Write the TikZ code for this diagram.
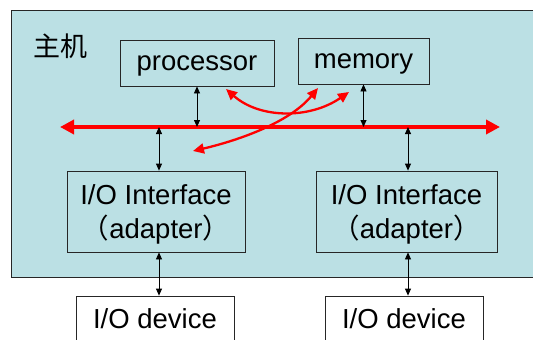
\documentclass[tikz,border=0pt]{standalone}
\usepackage{fontspec}
\setmainfont{Liberation Sans}
\newfontfamily\cjk{Noto Sans CJK SC}
\usetikzlibrary{arrows.meta}
\definecolor{hostblue}{RGB}{187,224,228}
\definecolor{busred}{RGB}{255,0,0}
\tikzset{
  box/.style={draw=black!85, line width=0.8pt, inner sep=0pt, text depth=0pt, font=\fontsize{27.5}{34}\selectfont, align=center},
  link/.style={{Triangle[length=7pt,width=6pt]}-{Triangle[length=7pt,width=6pt]}, line width=0.8pt, black},
  busline/.style={busred, line width=4.5pt, {Triangle[length=14pt,width=14pt]}-{Triangle[length=14pt,width=14pt]}},
  flow/.style={busred, line width=2.3pt, {Triangle[length=11pt,width=10pt]}-{Triangle[length=11pt,width=10pt]}}
}
\begin{document}
\begin{tikzpicture}[x=1pt,y=-1pt]
\useasboundingbox (0,0) rectangle (533,340);
\clip (0,0) rectangle (533,340);
\fill[white] (0,0) rectangle (533,340);
% host area
\node (host) [draw=black!85, line width=0.8pt, fill=hostblue, anchor=north west, minimum width=540pt, minimum height=267pt, inner sep=0pt] at (11,10) {};
\node (hostlabel) [font=\cjk\fontsize{27}{30}\selectfont, inner sep=0pt] at (60,46) {主机};
% components
\node (proc) [box, minimum width=154pt, minimum height=46pt] at (197,63) {processor};
\node (mem) [box, minimum width=131pt, minimum height=46pt] at (363.5,61) {memory};
\node (ifL) [box, minimum width=178pt, minimum height=81pt] at (156,211.5) {I/O Interface\\{\cjk （}adapter{\cjk ）}};
\node (ifR) [box, minimum width=181pt, minimum height=81pt] at (406.5,211.5) {I/O Interface\\{\cjk （}adapter{\cjk ）}};
\node (devL) [box, fill=white, minimum width=158pt, minimum height=46pt] at (155,319) {I/O device};
\node (devR) [box, fill=white, minimum width=158pt, minimum height=46pt] at (404,319) {I/O device};
% bus
\coordinate (busL) at (60,127);
\coordinate (busR) at (500,127);
\draw[busline] (busL) -- (busR);
% bus links
\draw[link] (proc.south) -- (proc.south |- busL);
\draw[link] (mem.south) -- (mem.south |- busL);
\coordinate (tapL) at (159,127);
\coordinate (tapR) at (408,127);
\draw[link] (tapL) -- (tapL |- ifL.north);
\draw[link] (tapR) -- (tapR |- ifR.north);
\draw[link] (tapL |- ifL.south) -- (tapL |- devL.north);
\draw[link] (tapR |- ifR.south) -- (tapR |- devR.north);
% data flows
\coordinate (f1a) at (226,89);
\coordinate (f1b) at (349,92);
\coordinate (f2a) at (193,151);
\coordinate (f2b) at (318,88);
\draw[flow] (f1a) .. controls (260,119) and (310,119) .. (f1b);
\draw[flow] (f2a) .. controls (240,140) and (290,122) .. (f2b);
\end{tikzpicture}
\end{document}
